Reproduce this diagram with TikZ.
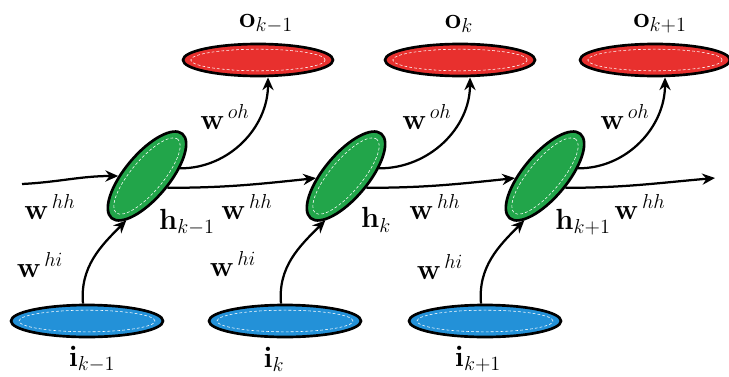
\documentclass[tikz,border=0pt]{standalone}
\usepackage{amsmath}
\usetikzlibrary{
  arrows.meta,
  shapes.geometric,
  positioning,
  calc
}
\definecolor{rnnOut}{HTML}{E8302E}
\definecolor{rnnHid}{HTML}{22A54A}
\definecolor{rnnIn}{HTML}{2391D8}
\tikzset{
  unit/.style={
    draw, ellipse, line width=1.9pt, inner sep=0pt
  },
  outunit/.style={unit, fill=rnnOut, minimum width=37.5mm, minimum height=8mm},
  hidunit/.style={unit, fill=rnnHid, minimum width=27.5mm, minimum height=11mm, rotate=50},
  inunit/.style={unit, fill=rnnIn, minimum width=38mm, minimum height=8mm},
  ring/.style={draw=white, line width=0.4pt, dash pattern=on 2pt off 1.5pt},
  wire/.style={-{Stealth[length=3.2mm, width=2.8mm]}, line width=1.6pt},
  tag/.style={font=\huge, inner sep=1pt}
}

\begin{document}
\begin{tikzpicture}
  \useasboundingbox (0,0) rectangle (18.225,9.4);

  % output layer
  \node[outunit] (o1) at (6.45,7.9) {};
  \node[outunit] (o2) at (11.5,7.9) {};
  \node[outunit] (o3) at (16.375,7.9) {};
  \draw[ring] (o1) ellipse (1.68 and 0.27);
  \draw[ring] (o2) ellipse (1.68 and 0.27);
  \draw[ring] (o3) ellipse (1.68 and 0.27);

  % hidden layer
  \node[hidunit] (h1) at (3.675,5.0) {};
  \node[hidunit] (h2) at (8.65,5.0) {};
  \node[hidunit] (h3) at (13.625,5.0) {};
  \draw[ring, rotate=50] (h1) ellipse (1.2 and 0.4);
  \draw[ring, rotate=50] (h2) ellipse (1.2 and 0.4);
  \draw[ring, rotate=50] (h3) ellipse (1.2 and 0.4);

  % input layer
  \node[inunit] (i1) at (2.175,1.375) {};
  \node[inunit] (i2) at (7.125,1.375) {};
  \node[inunit] (i3) at (12.125,1.375) {};
  \draw[ring] (i1) ellipse (1.7 and 0.27);
  \draw[ring] (i2) ellipse (1.7 and 0.27);
  \draw[ring] (i3) ellipse (1.7 and 0.27);

  % unit names
  \node[tag] (o1n) at (6.65,8.8) {$\mathbf{o}_{k-1}$};
  \node[tag] (o2n) at (11.475,8.8) {$\mathbf{o}_{k}$};
  \node[tag] (o3n) at (16.5,8.8) {$\mathbf{o}_{k+1}$};
  \node[tag] (h1n) at (4.675,3.85) {$\mathbf{h}_{k-1}$};
  \node[tag] (h2n) at (9.4,3.9) {$\mathbf{h}_{k}$};
  \node[tag] (h3n) at (14.575,3.85) {$\mathbf{h}_{k+1}$};
  \node[tag] (i1n) at (2.3,0.42) {$\mathbf{i}_{k-1}$};
  \node[tag] (i2n) at (6.85,0.42) {$\mathbf{i}_{k}$};
  \node[tag] (i3n) at (11.95,0.42) {$\mathbf{i}_{k+1}$};

  % recurrent wires
  \coordinate (hin) at (0.55,4.8);
  \coordinate (hout) at (17.875,4.95);
  \draw[wire] (hin) to[out=3, in=180] (h1.130);
  \draw[wire] (h1.-80) to[out=0, in=186] (h2.134);
  \draw[wire] (h2.-80) to[out=0, in=186] (h3.134);
  \draw[wire] (h3.-80) to[out=0, in=185] (hout);

  % hidden to output
  \draw[wire] (h1.-37) to[out=0, in=-90] ([xshift=2.5mm]o1.south);
  \draw[wire] (h2.-37) to[out=0, in=-90] ([xshift=2.5mm]o2.south);
  \draw[wire] (h3.-37) to[out=0, in=-90] ([xshift=2.5mm]o3.south);

  % input to hidden
  \draw[wire] ([xshift=-1mm]i1.north) to[out=95, in=225] (h1.195);
  \draw[wire] ([xshift=-1mm]i2.north) to[out=95, in=225] (h2.195);
  \draw[wire] ([xshift=-1mm]i3.north) to[out=95, in=225] (h3.195);

  % weights
  \node[tag] (whh0) at (1.25,4.225) {$\mathbf{w}^{\,hh}$};
  \node[tag] (whh1) at (6.175,4.225) {$\mathbf{w}^{\,hh}$};
  \node[tag] (whh2) at (10.875,4.225) {$\mathbf{w}^{\,hh}$};
  \node[tag] (whh3) at (16.0,4.225) {$\mathbf{w}^{\,hh}$};
  \node[tag] (woh1) at (5.625,6.475) {$\mathbf{w}^{\,oh}$};
  \node[tag] (woh2) at (10.675,6.475) {$\mathbf{w}^{\,oh}$};
  \node[tag] (woh3) at (15.625,6.475) {$\mathbf{w}^{\,oh}$};
  \node[tag] (whi1) at (1.0,2.775) {$\mathbf{w}^{\,hi}$};
  \node[tag] (whi2) at (5.825,2.8) {$\mathbf{w}^{\,hi}$};
  \node[tag] (whi3) at (11.0,2.725) {$\mathbf{w}^{\,hi}$};
\end{tikzpicture}
\end{document}
